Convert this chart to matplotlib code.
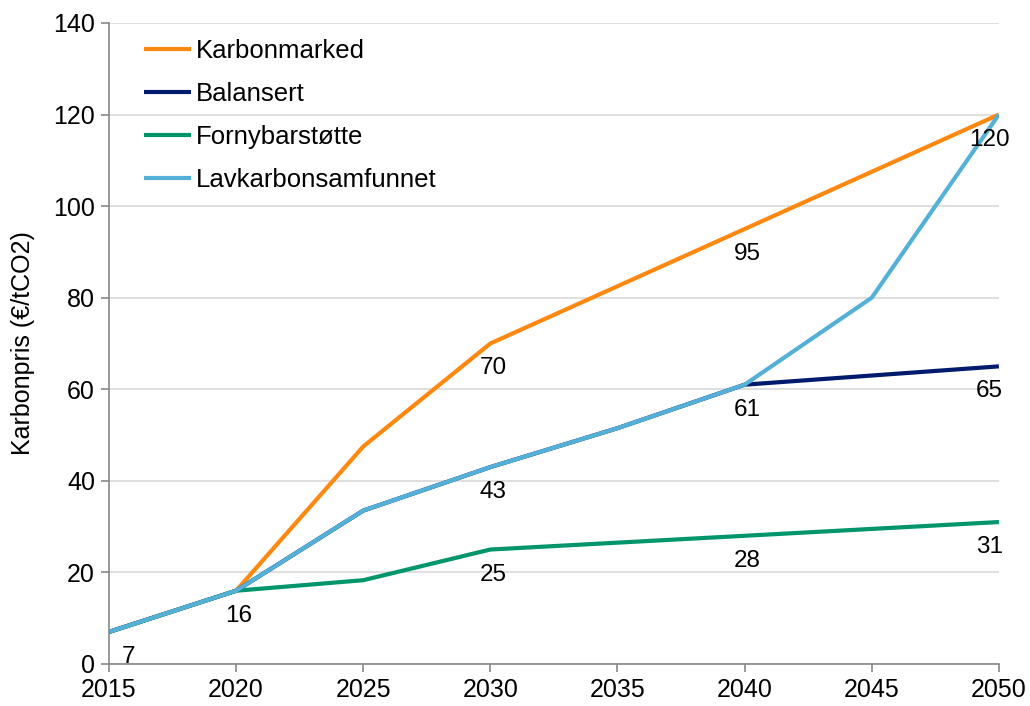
import matplotlib.pyplot as plt

plt.rcParams["font.family"] = ["Liberation Sans", "DejaVu Sans"]
plt.rcParams["font.size"] = 18

years = [2015, 2020, 2025, 2030, 2035, 2040, 2045, 2050]
karbonmarked = [7, 16, 47.5, 70, 82.5, 95, 107.5, 120]
balansert = [7, 16, 33.5, 43, 51.5, 61, 63, 65]
fornybarstotte = [7, 16, 18.3, 25, 26.5, 28, 29.5, 31]
lavkarbon = [7, 16, 33.5, 43, 51.5, 61, 80, 120]

names = ["Karbonmarked", "Balansert", "Fornybarstøtte", "Lavkarbonsamfunnet"]
colors = ["#FF8811", "#001A6E", "#00956A", "#55B0D8"]

# which points get a value label: (series index, year index)
labelled = [(1, 0), (1, 1),
            (0, 3), (1, 3), (2, 3),
            (0, 5), (1, 5), (2, 5),
            (0, 7), (1, 7), (2, 7)]

fig = plt.figure(figsize=(10.3, 7.06), dpi=100)
ax = fig.add_axes([0.1058, 0.0595, 0.864, 0.908])

series = [karbonmarked, balansert, fornybarstotte, lavkarbon]
for vals, name, c in zip(series, names, colors):
    ax.plot(years, vals, color=c, lw=3, label=name, solid_capstyle="butt")

for s, i in labelled:
    v = series[s][i]
    dx = 14 if i == 0 else (-7 if i == len(years) - 1 else 2)
    ax.annotate(f"{v:.0f}", (years[i], v), xytext=(dx, -18),
                textcoords="offset points", ha="center", va="center",
                fontsize=17.5)

ax.set_xlim(2015, 2050)
ax.set_ylim(0, 140)
ax.set_xticks(years)
ax.set_yticks(range(0, 141, 20))
ax.set_ylabel("Karbonpris (€/tCO2)", fontsize=18, labelpad=13)

ax.grid(axis="y", color="#D9D9D9", lw=1.2)
ax.set_axisbelow(True)
for side in ["top", "right"]:
    ax.spines[side].set_visible(False)
for side in ["left", "bottom"]:
    ax.spines[side].set_color("#888888")
    ax.spines[side].set_linewidth(1.2)
ax.tick_params(color="#888888", length=6, width=1.2, labelsize=18, pad=4)

ax.legend(loc="upper left", frameon=False, fontsize=18.5, handlelength=1.85,
          handletextpad=0.2, labelspacing=0.74, bbox_to_anchor=(0.013, 1.011))

fig.savefig("out.png", dpi=100)
